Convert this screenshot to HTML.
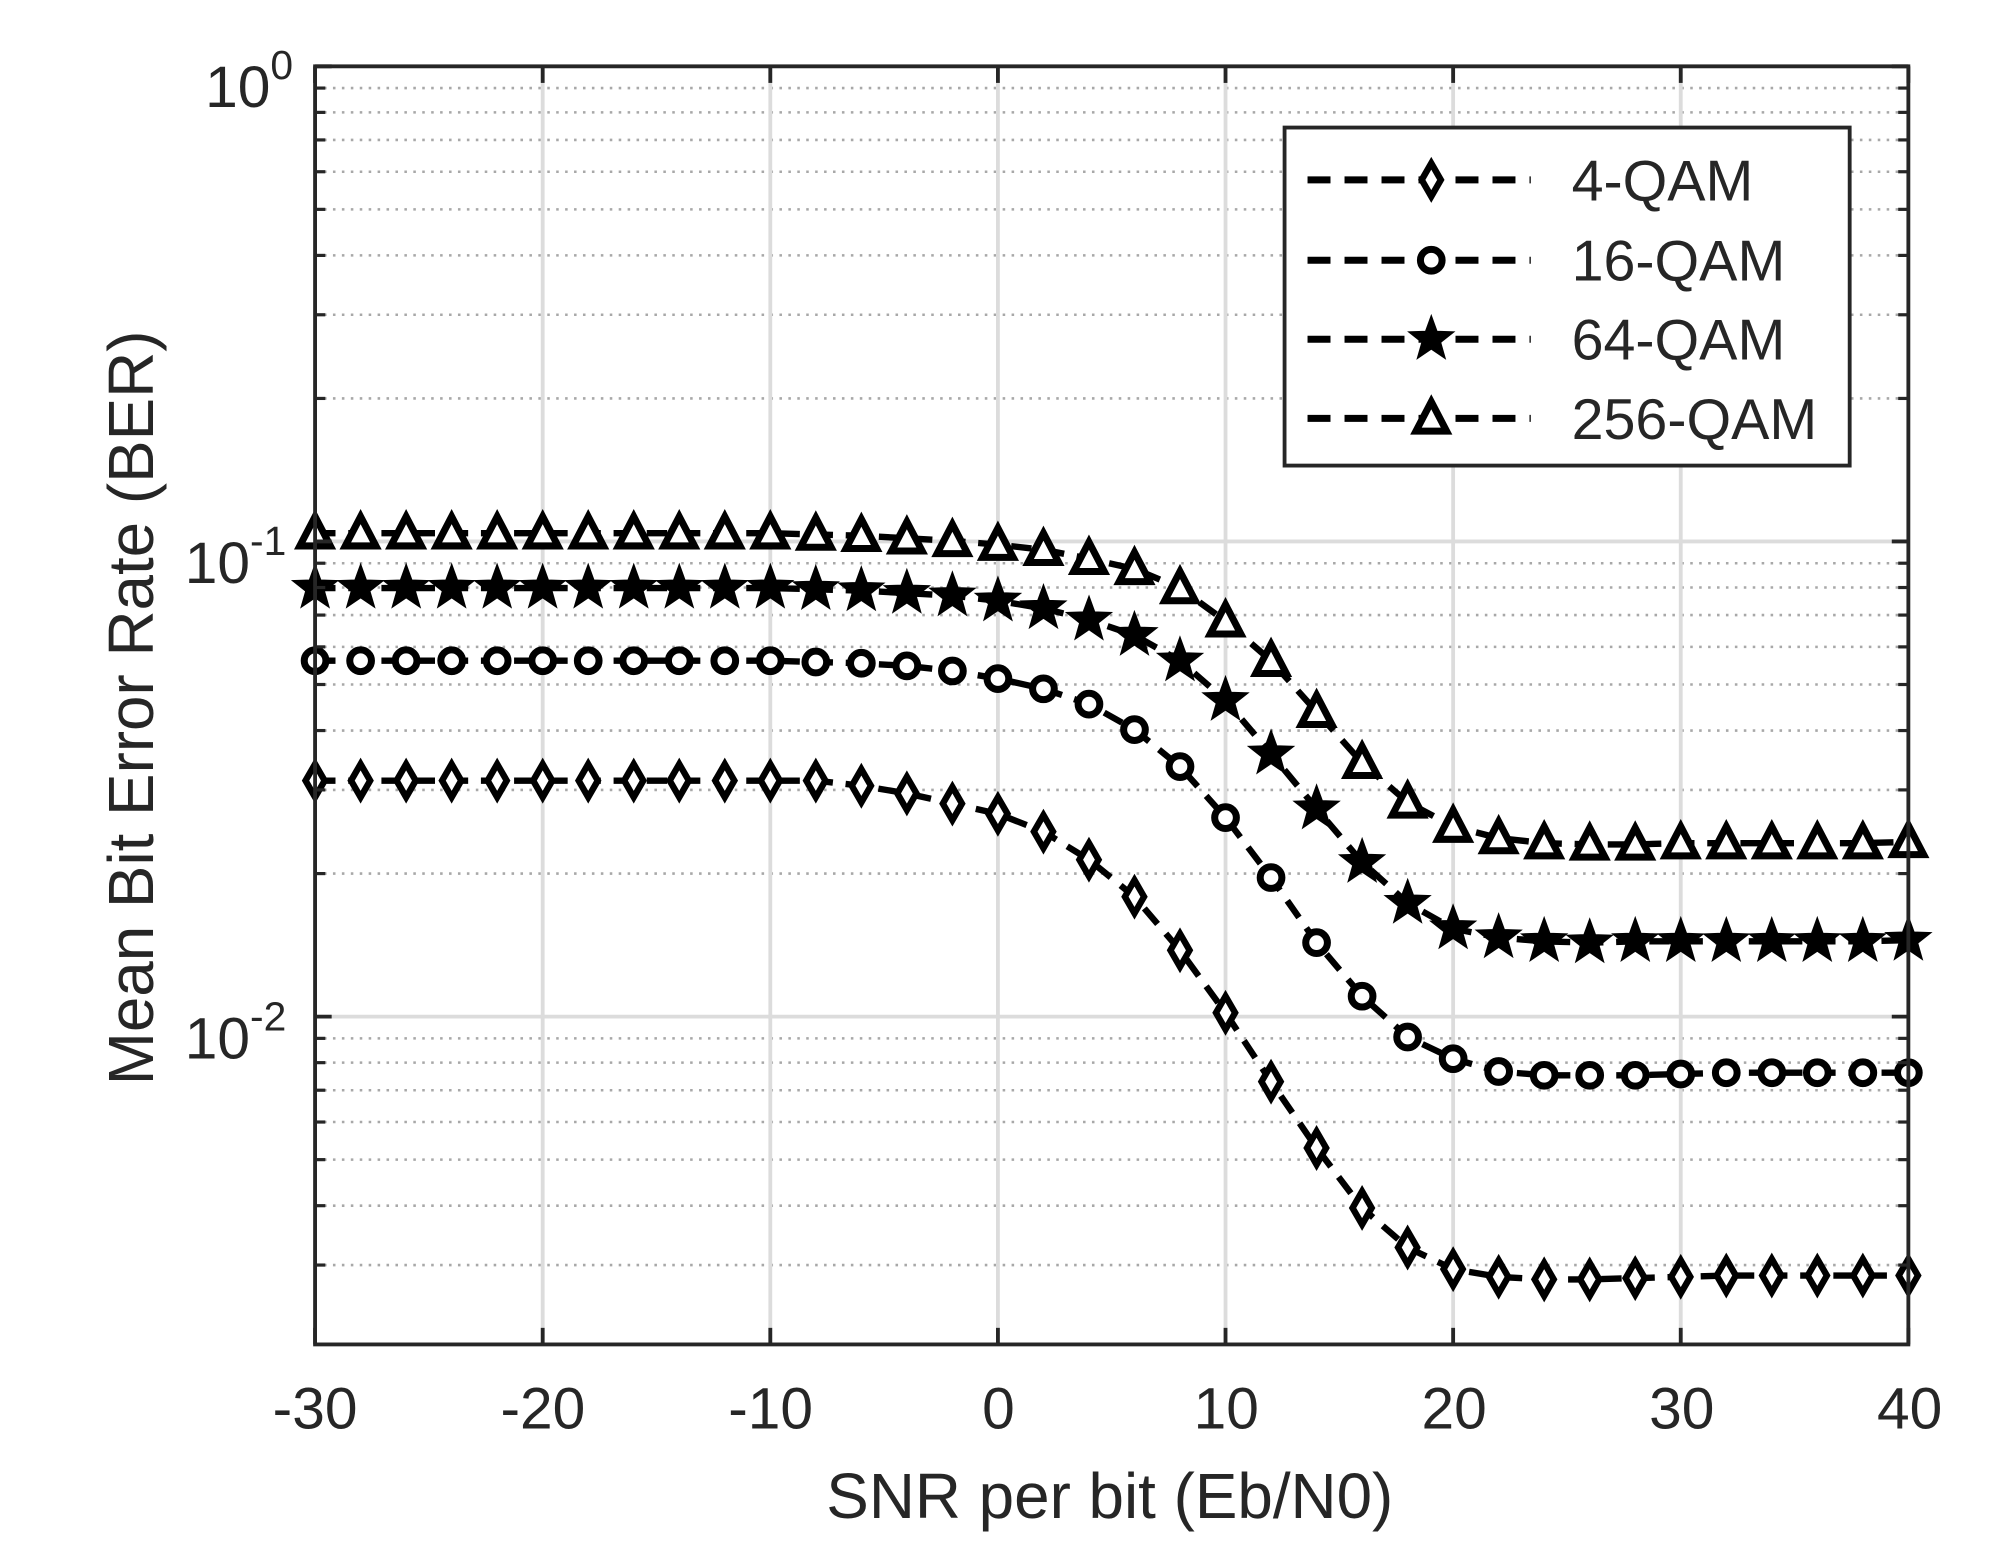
<!DOCTYPE html>
<html><head><meta charset="utf-8"><style>
html,body{margin:0;padding:0;background:#fff;}
svg{display:block;}
text{font-family:"Liberation Sans",sans-serif;fill:#262626;}
</style></head><body>
<svg id="s" width="1990" height="1560" viewBox="0 0 1560 1223" preserveAspectRatio="none" xmlns="http://www.w3.org/2000/svg">
<rect x="0" y="0" width="1560" height="1223" fill="#fff"/>
<g id="grid"></g>
<g id="series"></g>
<rect x="247" y="52" width="1249" height="1002" fill="none" stroke="#262626" stroke-width="3"/>
<g id="ticks"></g>
<g font-size="46">
<text x="247" y="1120" text-anchor="middle">-30</text>
<text x="425.6" y="1120" text-anchor="middle">-20</text>
<text x="604.1" y="1120" text-anchor="middle">-10</text>
<text x="782.7" y="1120" text-anchor="middle">0</text>
<text x="961.3" y="1120" text-anchor="middle">10</text>
<text x="1139.9" y="1120" text-anchor="middle">20</text>
<text x="1318.4" y="1120" text-anchor="middle">30</text>
<text x="1497" y="1120" text-anchor="middle">40</text>
<text x="212" y="84" text-anchor="end">10</text><text x="212" y="62" font-size="32">0</text>
<text x="196" y="457" text-anchor="end">10</text><text x="196" y="435" font-size="32">-1</text>
<text x="196" y="830" text-anchor="end">10</text><text x="196" y="808" font-size="32">-2</text>
<text x="870" y="1190" text-anchor="middle" font-size="50">SNR per bit (Eb/N0)</text>
<text transform="translate(120,555) rotate(-90)" text-anchor="middle" font-size="50">Mean Bit Error Rate (BER)</text>
</g>
<rect x="1007" y="100" width="443" height="265" fill="#fff" stroke="#262626" stroke-width="3"/>
<g id="legend"></g>
</svg>
<script>
const NS="http://www.w3.org/2000/svg";
function el(p,t,a){const e=document.createElementNS(NS,t);for(const k in a)e.setAttribute(k,a[k]);p.appendChild(e);return e;}
const g=document.getElementById('grid'),tk=document.getElementById('ticks'),sr=document.getElementById('series'),lg=document.getElementById('legend');
const X=v=>247+(v+30)*1249/70;
const dec=372.5;
function Y(val){return 52-Math.log10(val)*dec;}
for(const d of [-3,-2,-1]){for(let m=2;m<=9;m++){const y=Y(m*Math.pow(10,d));if(y<1054&&y>52){el(g,'line',{x1:247,x2:1496,y1:y,y2:y,stroke:'#a8a8a8','stroke-width':2,'stroke-dasharray':'2 5'});el(tk,'line',{x1:247,x2:255,y1:y,y2:y,stroke:'#262626','stroke-width':2.5});el(tk,'line',{x1:1488,x2:1496,y1:y,y2:y,stroke:'#262626','stroke-width':2.5});}}}
for(const y of [52,424.5,797]){el(g,'line',{x1:247,x2:1496,y1:y,y2:y,stroke:'#dcdcdc','stroke-width':3});el(tk,'line',{x1:247,x2:260,y1:y,y2:y,stroke:'#262626','stroke-width':3});el(tk,'line',{x1:1483,x2:1496,y1:y,y2:y,stroke:'#262626','stroke-width':3});}
for(let v=-30;v<=40;v+=10){const x=X(v);el(g,'line',{x1:x,x2:x,y1:52,y2:1054,stroke:'#dcdcdc','stroke-width':3});el(tk,'line',{x1:x,x2:x,y1:1054,y2:1041,stroke:'#262626','stroke-width':3});el(tk,'line',{x1:x,x2:x,y1:52,y2:65,stroke:'#262626','stroke-width':3});}
const xs=[];for(let v=-30;v<=40;v+=2)xs.push(v);
function build(flat,pre,tail){const n=xs.length;const a=[];const rest=pre.concat(tail);const nf=n-rest.length;for(let i=0;i<nf;i++)a.push(flat);return a.concat(rest);}
const S=[
 {m:'d',y:build(612,[612,616,622,630],[638,652,674,703,745,794,848,900,947,978,995,1001,1003,1003,1002,1001,1000,1000,1000,1000,1000])},
 {m:'o',y:build(518,[519,520,522,526],[532,540,552,572,601,641,688,739,781,813,830,840,843,843,843,842,841,841,841,841,841])},
 {m:'s',y:build(461,[462,463,465,467],[471,477,486,498,518,549,591,634,676,708,728,735,738,739,738,738,738,738,738,738,737])},
 {m:'t',y:build(418,[419,420,422,424],[427,431,438,446,461,487,518,558,598,629,648,657,661,662,662,661,661,661,661,661,660])}
];
function marker(p,type,x,y){
 const st={stroke:'#000','stroke-width':5,fill:'#fff'};
 if(type==='d'){el(p,'polygon',Object.assign({points:`${x},${y-13} ${x+7.5},${y} ${x},${y+13} ${x-7.5},${y}`},st));}
 else if(type==='o'){el(p,'circle',Object.assign({cx:x,cy:y,r:8.5},st,{'stroke-width':5.5}));}
 else if(type==='s'){const pts=[];for(let i=0;i<10;i++){const r=i%2?7:17;const a=-Math.PI/2+i*Math.PI/5;pts.push((x+r*Math.cos(a)).toFixed(1)+','+(y+r*Math.sin(a)).toFixed(1));}el(p,'polygon',{points:pts.join(' '),fill:'#000',stroke:'#000','stroke-width':2});}
 else {el(p,'polygon',Object.assign({points:`${x},${y-13} ${x+12},${y+10} ${x-12},${y+10}`},st,{'stroke-width':5.5}));}
}
for(const s of S){
 const pts=xs.map((v,i)=>X(v).toFixed(1)+','+s.y[i]).join(' ');
 el(sr,'polyline',{points:pts,fill:'none',stroke:'#000','stroke-width':5,'stroke-dasharray':'16 10'});
 xs.forEach((v,i)=>marker(sr,s.m,X(v),s.y[i]));
}
const names=['4-QAM','16-QAM','64-QAM','256-QAM'],ly=[141,204,266,328];
S.forEach((s,i)=>{
 el(lg,'line',{x1:1025,x2:1200,y1:ly[i],y2:ly[i],stroke:'#000','stroke-width':5.5,'stroke-dasharray':'18 11'});
 marker(lg,s.m,1122,ly[i]);
 const t=el(lg,'text',{x:1232,y:ly[i]+16,'font-size':45});t.textContent=names[i];
});
</script>
</body></html>
